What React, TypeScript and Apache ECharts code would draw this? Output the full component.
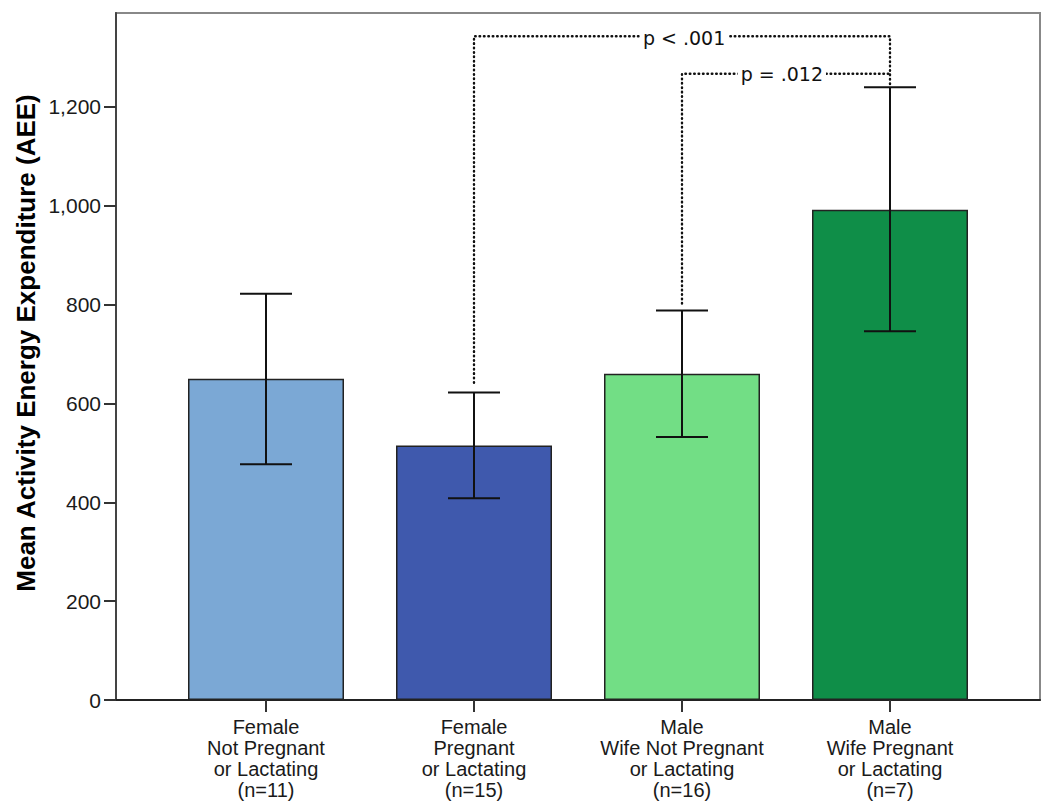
import React, { useEffect, useRef } from "react";
import * as echarts from "echarts";

const categories = [
  "Female\nNot Pregnant\nor Lactating\n(n=11)",
  "Female\nPregnant\nor Lactating\n(n=15)",
  "Male\nWife Not Pregnant\nor Lactating\n(n=16)",
  "Male\nWife Pregnant\nor Lactating\n(n=7)",
];
const positions = [1, 2, 3, 4];
const means = [650, 515, 660, 992];
const ciLow = [477, 408, 532, 746];
const ciHigh = [822, 622, 788, 1240];
const barColors = ["#7BA8D5", "#3F59AD", "#72DE85", "#0F8E48"];
const yTicks = [0, 200, 400, 600, 800, 1000, 1200];
const yMax = 1390;

// significance brackets, in data coordinates
const bracketA = [[2, 642], [2, 1343], [4, 1343], [4, 1244]];
const bracketB = [[3, 802], [3, 1267], [4, 1267]];
const pLabelX = [3.01, 3.48];
const pLabelY = [1339, 1267];
const pLabelText = ["p < .001", "p = .012"];

const sans = "'Liberation Sans', Arial, sans-serif";

export default function App() {
  const ref = useRef<HTMLDivElement>(null);
  useEffect(() => {
    if (!ref.current) return;
    const chart = echarts.init(ref.current, undefined, { renderer: "svg" });
    const dotted = { color: "#111", width: 2.4, type: [0.6, 3.8], cap: "round" };
    const option: any = {
      animation: false,
      backgroundColor: "#fff",
      grid: {
        left: 116,
        right: 10,
        top: 13,
        bottom: 110,
        show: true,
        borderColor: "#888",
        borderWidth: 2,
        backgroundColor: "transparent",
      },
      xAxis: {
        type: "value",
        min: 1 - 150 / 208,
        max: 4 + 150 / 208,
        splitLine: { show: false },
        axisLine: { show: true, lineStyle: { color: "#222", width: 2 } },
        axisTick: {
          show: true,
          customValues: positions,
          length: 12,
          lineStyle: { color: "#333", width: 2 },
        },
        axisLabel: {
          customValues: positions,
          formatter: (v: number) => categories[Math.round(v) - 1] || "",
          color: "#1a1a1a",
          fontFamily: sans,
          fontSize: 20,
          lineHeight: 21,
          margin: 16,
        },
      },
      yAxis: {
        type: "value",
        min: 0,
        max: yMax,
        splitLine: { show: false },
        axisLine: { show: true, lineStyle: { color: "#444", width: 2 } },
        axisTick: {
          show: true,
          customValues: yTicks,
          length: 12,
          lineStyle: { color: "#333", width: 2 },
        },
        axisLabel: {
          customValues: yTicks,
          formatter: (v: number) => v.toLocaleString("en-US"),
          color: "#1a1a1a",
          fontFamily: sans,
          fontSize: 21,
          margin: 15,
        },
      },
      graphic: [
        {
          type: "text",
          x: 26,
          y: 343,
          rotation: Math.PI / 2,
          style: {
            text: "Mean Activity Energy Expenditure (AEE)",
            font: `bold 26px ${sans}`,
            fill: "#000",
            textAlign: "center",
            textVerticalAlign: "middle",
          },
        },
      ],
      series: [
        {
          type: "bar",
          barWidth: 156,
          data: positions.map((p, i) => ({
            value: [p, means[i]],
            itemStyle: { color: barColors[i] },
          })),
          itemStyle: { borderColor: "#222", borderWidth: 1.5 },
          z: 2,
        },
        {
          type: "custom",
          z: 3,
          data: positions.map((p, i) => [p, ciLow[i], ciHigh[i]]),
          renderItem: (params: any, api: any) => {
            const x = api.value(0);
            const lo = api.coord([x, api.value(1)]);
            const hi = api.coord([x, api.value(2)]);
            const hw = 26;
            const style = { stroke: "#111", lineWidth: 2 };
            return {
              type: "group",
              children: [
                { type: "line", shape: { x1: lo[0], y1: lo[1], x2: hi[0], y2: hi[1] }, style },
                { type: "line", shape: { x1: hi[0] - hw, y1: hi[1], x2: hi[0] + hw, y2: hi[1] }, style },
                { type: "line", shape: { x1: lo[0] - hw, y1: lo[1], x2: lo[0] + hw, y2: lo[1] }, style },
              ],
            };
          },
        },
        {
          type: "line",
          data: bracketA,
          symbol: "none",
          z: 4,
          lineStyle: dotted,
        },
        {
          type: "line",
          data: bracketB,
          symbol: "none",
          z: 4,
          lineStyle: dotted,
        },
        {
          type: "custom",
          z: 10,
          data: pLabelX.map((x, i) => [x, pLabelY[i], i]),
          renderItem: (params: any, api: any) => {
            const pt = api.coord([api.value(0), api.value(1)]);
            const txt = pLabelText[api.value(2)];
            const font = "19px 'DejaVu Sans', Verdana, sans-serif";
            const r = (echarts.format as any).getTextRect
              ? (echarts.format as any).getTextRect(txt, font)
              : { width: 84, height: 22 };
            const w = r.width + 6;
            const h = 22;
            return {
              type: "group",
              children: [
                {
                  type: "rect",
                  shape: { x: pt[0] - w / 2, y: pt[1] - h / 2, width: w, height: h },
                  style: { fill: "#fff" },
                },
                {
                  type: "text",
                  x: pt[0],
                  y: pt[1],
                  style: {
                    text: txt,
                    font,
                    fill: "#111",
                    textAlign: "center",
                    textVerticalAlign: "middle",
                  },
                },
              ],
            };
          },
        },
      ],
    };
    chart.setOption(option);
    return () => chart.dispose();
  }, []);
  return <div ref={ref} style={{ width: 1050, height: 810, margin: -8 }} />;
}
